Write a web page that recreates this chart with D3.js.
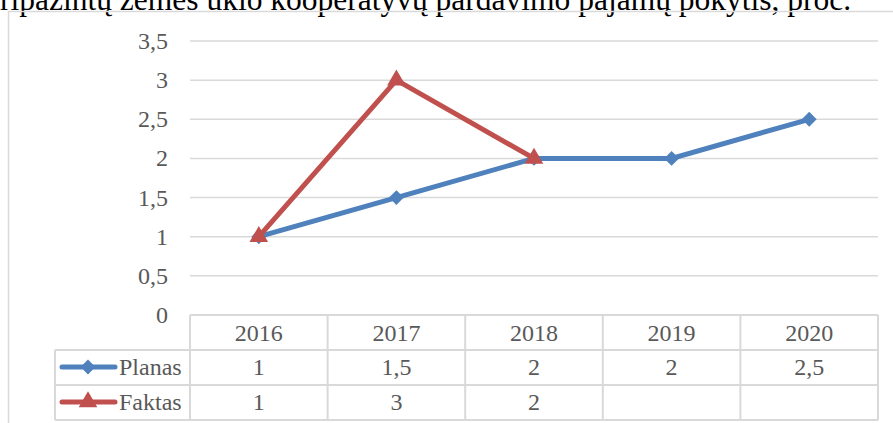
<!DOCTYPE html>
<html>
<head>
<meta charset="utf-8">
<script src="https://cdn.jsdelivr.net/npm/d3@7"></script>
<style>
	body { margin: 0; background: #fff; }
</style>
</head>
<body>
<div id="chart"></div>
<script>
var title = "ripažintų žemės ūkio kooperatyvų pardavimo pajamų pokytis, proc.";
var years = ["2016", "2017", "2018", "2019", "2020"];
var planas = [1, 1.5, 2, 2, 2.5];
var faktas = [1, 3, 2, null, null];
var yTicks = [0, 0.5, 1, 1.5, 2, 2.5, 3, 3.5];

(function(){
	var width = 893;
	var height = 423;
	var gridCol = "#d9d9d9";
	var textCol = "#595959";
	var fs = 24;
	var fmt = function(v){ return String(v).replace(".", ","); };

	var svg = d3.select('#chart').append('svg')
		.attr('width', width)
		.attr('height', height)
		.attr('font-family', "'Liberation Serif', 'DejaVu Serif', serif");

	// title, cut off at the top of the picture like in the source
	svg.append('text')
		.attr('x', 0)
		.attr('y', 10)
		.attr('font-size', 31.5)
		.attr('fill', '#000')
		.text(title);

	// chart frame
	svg.append('path')
		.attr('d', 'M8.5,' + height + 'V11.5H' + (width + 2))
		.attr('fill', 'none')
		.attr('stroke', gridCol)
		.attr('stroke-width', 1.5);

	var x = d3.scaleBand().domain(years).range([190, 878]);
	var y = d3.scaleLinear().domain([0, 3.5]).range([315, 41]);

	// grid
	svg.selectAll('.grid')
		.data(yTicks.filter(function(d){ return d > 0; }))
		.enter()
		.append('line')
		.attr('x1', 190).attr('x2', 878)
		.attr('y1', function(d){ return y(d); })
		.attr('y2', function(d){ return y(d); })
		.attr('stroke', gridCol)
		.attr('stroke-width', 1.5);

	svg.selectAll('.ylab')
		.data(yTicks)
		.enter()
		.append('text')
		.attr('x', 168)
		.attr('y', function(d){ return y(d) + 8; })
		.attr('text-anchor', 'end')
		.attr('font-size', fs)
		.attr('fill', textCol)
		.text(fmt);

	// data table
	var rowTop = [315, 350, 385, 420];
	var tableLeft = 55;
	var t = svg.append('g')
		.attr('stroke', gridCol)
		.attr('stroke-width', 2)
		.attr('fill', 'none');
	t.append('line').attr('x1', 190).attr('x2', 878).attr('y1', rowTop[0]).attr('y2', rowTop[0]);
	[1, 2, 3].forEach(function(i){
		t.append('line').attr('x1', tableLeft).attr('x2', 878).attr('y1', rowTop[i]).attr('y2', rowTop[i]);
	});
	t.append('line').attr('x1', tableLeft).attr('x2', tableLeft).attr('y1', rowTop[1]).attr('y2', rowTop[3]);
	years.forEach(function(yr){
		t.append('line').attr('x1', x(yr)).attr('x2', x(yr)).attr('y1', rowTop[0]).attr('y2', rowTop[3]);
	});
	t.append('line').attr('x1', 878).attr('x2', 878).attr('y1', rowTop[0]).attr('y2', rowTop[3]);

	svg.selectAll('.xlab')
		.data(years)
		.enter()
		.append('text')
		.attr('x', function(d){ return x(d) + x.bandwidth()/2; })
		.attr('y', rowTop[0] + 26)
		.attr('text-anchor', 'middle')
		.attr('font-size', fs)
		.attr('fill', textCol)
		.text(function(d){ return d; });

	var diamond = {
		draw: function(ctx, size){
			var r = Math.sqrt(size / 2);
			ctx.moveTo(0, -r); ctx.lineTo(r, 0); ctx.lineTo(0, r); ctx.lineTo(-r, 0); ctx.closePath();
		}
	};

	var series = [
		{name: "Planas", values: planas, color: "#4f81bd", marker: diamond, size: 110},
		{name: "Faktas", values: faktas, color: "#c0504d", marker: d3.symbolTriangle, size: 150}
	];

	var line = d3.line()
		.defined(function(d){ return d.v !== null; })
		.x(function(d){ return x(d.yr) + x.bandwidth()/2; })
		.y(function(d){ return y(d.v); });

	series.forEach(function(s, i){
		var pts = years.map(function(yr, j){ return {yr: yr, v: s.values[j]}; });
		var rowY = rowTop[i + 1] + 17;

		svg.append('path')
			.attr('d', line(pts))
			.attr('fill', 'none')
			.attr('stroke', s.color)
			.attr('stroke-width', 5);

		svg.selectAll('.m' + i)
			.data(pts.filter(function(d){ return d.v !== null; }))
			.enter()
			.append('path')
			.attr('d', d3.symbol().type(s.marker).size(s.size))
			.attr('transform', function(d){
				return 'translate(' + (x(d.yr) + x.bandwidth()/2) + ',' + y(d.v) + ')';
			})
			.attr('fill', s.color);

		// legend key in the table
		svg.append('line')
			.attr('x1', 62).attr('x2', 115)
			.attr('y1', rowY).attr('y2', rowY)
			.attr('stroke', s.color)
			.attr('stroke-width', 5)
			.attr('stroke-linecap', 'round');
		svg.append('path')
			.attr('d', d3.symbol().type(s.marker).size(s.size))
			.attr('transform', 'translate(88,' + rowY + ')')
			.attr('fill', s.color);
		svg.append('text')
			.attr('x', 119)
			.attr('y', rowY + 8)
			.attr('font-size', fs)
			.attr('fill', textCol)
			.text(s.name);

		svg.selectAll('.v' + i)
			.data(pts)
			.enter()
			.append('text')
			.attr('x', function(d){ return x(d.yr) + x.bandwidth()/2; })
			.attr('y', rowY + 8)
			.attr('text-anchor', 'middle')
			.attr('font-size', fs)
			.attr('fill', textCol)
			.text(function(d){ return d.v === null ? "" : fmt(d.v); });
	});
})();
</script>
</body>
</html>
